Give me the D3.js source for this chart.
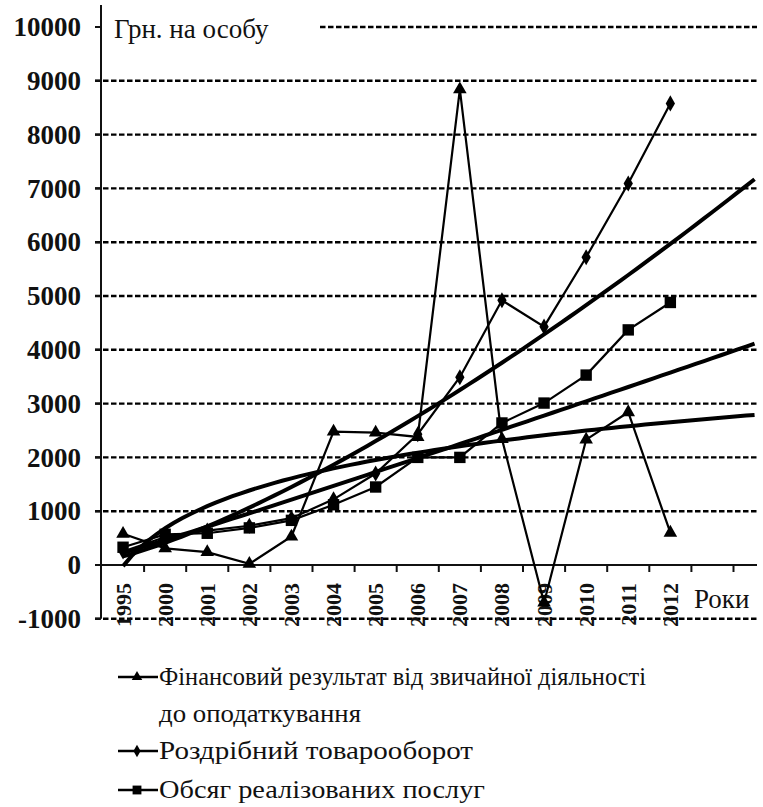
<!DOCTYPE html>
<html>
<head>
<meta charset="utf-8">
<script src="https://cdn.jsdelivr.net/npm/d3@7"></script>
<style>
  body { margin: 0; background: #fff; }
</style>
</head>
<body>
<svg id="chart" width="763" height="807"></svg>
<script>
// categories (two empty slots at the end = trend forecast)
const years = ["1995", "2000", "2001", "2002", "2003", "2004", "2005", "2006",
  "2007", "2008", "2009", "2010", "2011", "2012"];
const forecastSlots = ["+1", "+2"];

// series, грн на особу
const finResult = [580, 310, 240, 20, 530, 2480, 2460, 2380, 8840, 2340, -700, 2330, 2840, 600];
const retailTurnover = [250, 520, 640, 730, 870, 1220, 1700, 2430, 3490, 4920, 4430, 5720, 7090, 8580];
const servicesVolume = [330, 570, 590, 690, 830, 1120, 1450, 2000, 2000, 2640, 3010, 3530, 4370, 4880];

const yTickValues = [-1000, 0, 1000, 2000, 3000, 4000, 5000, 6000, 7000, 8000, 9000, 10000];

const legendRows = [
  ["Фінансовий результат від звичайної діяльності", "до оподаткування"],
  ["Роздрібний товарооборот"],
  ["Обсяг реалізованих послуг"]
];

const FONT = "'Liberation Serif', 'Times New Roman', serif";
const svg = d3.select("#chart");
svg.append("rect").attr("width", 763).attr("height", 807).attr("fill", "#fff");

const plotLeft = 101, plotRight = 757;
const x = d3.scaleBand()
  .domain(years.concat(forecastSlots))
  .range([102, 102 + 16 * 42.1]);
const y = d3.scaleLinear().domain([0, 10000]).range([565, 27]);

// index scale (1-based) for points and trend curves
const allCats = x.domain();
const xi = d3.scaleLinear()
  .domain([1, allCats.length])
  .range([x(allCats[0]) + x.bandwidth() / 2, x(allCats[allCats.length - 1]) + x.bandwidth() / 2]);

svg.append("clipPath").attr("id", "clip")
  .append("rect").attr("x", 0).attr("y", 0).attr("width", plotRight + 1).attr("height", 807);

// gridlines
const grid = svg.append("g").attr("clip-path", "url(#clip)");
grid.selectAll("line")
  .data(yTickValues.filter(v => v !== 0))
  .join("line")
  .attr("x1", d => d === 10000 ? 320 : 95)
  .attr("x2", plotRight)
  .attr("y1", d => y(d)).attr("y2", d => y(d))
  .attr("stroke", "#000")
  .attr("stroke-width", 2.4)
  .attr("stroke-dasharray", "5.5,2.5");

// y axis
const yAxis = svg.append("g");
yAxis.append("line")
  .attr("x1", plotLeft).attr("x2", plotLeft)
  .attr("y1", 5).attr("y2", y(-1000))
  .attr("stroke", "#111").attr("stroke-width", 2);
yAxis.selectAll("line.tk")
  .data(yTickValues)
  .join("line").attr("class", "tk")
  .attr("x1", 95).attr("x2", plotLeft)
  .attr("y1", d => y(d)).attr("y2", d => y(d))
  .attr("stroke", "#111").attr("stroke-width", 2);
yAxis.selectAll("text")
  .data(yTickValues)
  .join("text")
  .attr("x", 81)
  .attr("y", d => y(d))
  .attr("dy", "0.34em")
  .attr("text-anchor", "end")
  .style("font-family", FONT)
  .attr("font-size", 27)
  .attr("font-weight", "bold")
  .attr("fill", "#111")
  .text(d => d);

// x axis
const xAxis = svg.append("g").attr("clip-path", "url(#clip)");
xAxis.append("line")
  .attr("x1", plotLeft).attr("x2", plotRight)
  .attr("y1", y(0)).attr("y2", y(0))
  .attr("stroke", "#111").attr("stroke-width", 2);
xAxis.selectAll("line.tk")
  .data(allCats.slice(1))
  .join("line").attr("class", "tk")
  .attr("x1", d => x(d)).attr("x2", d => x(d))
  .attr("y1", y(0)).attr("y2", y(0) + 7)
  .attr("stroke", "#111").attr("stroke-width", 2);
svg.append("g").selectAll("text")
  .data(years)
  .join("text")
  .attr("transform", d => `translate(${x(d) + x.bandwidth() / 2},583) rotate(-90)`)
  .attr("dy", "0.34em")
  .attr("text-anchor", "end")
  .style("font-family", FONT)
  .attr("font-size", 22)
  .attr("font-weight", "bold")
  .attr("fill", "#111")
  .text(d => d);

// axis titles
svg.append("rect").attr("x", 104).attr("y", 12).attr("width", 214).attr("height", 32).attr("fill", "#fff");
svg.append("text").attr("x", 114).attr("y", 38).style("font-family", FONT)
  .attr("font-size", 27).attr("fill", "#111").text("Грн. на особу");
svg.append("text").attr("x", 694).attr("y", 608).style("font-family", FONT)
  .attr("font-size", 27).attr("fill", "#111").text("Роки");

// trend fits
const idx = years.map((d, i) => i + 1);
function linFit(xs, ys) {
  const mx = d3.mean(xs), my = d3.mean(ys);
  const b = d3.sum(xs, (v, i) => (v - mx) * (ys[i] - my)) / d3.sum(xs, v => (v - mx) * (v - mx));
  return [b, my - b * mx];
}
function logTrend(vals) {
  const [a, b] = linFit(idx.map(Math.log), vals);
  return t => a * Math.log(t) + b;
}
function powerTrend(vals) {
  const [b, la] = linFit(idx.map(Math.log), vals.map(Math.log));
  return t => Math.exp(la) * Math.pow(t, b);
}
const steps = d3.range(1, allCats.length + 0.001, 0.2);
const trendLine = d3.line().x(d => xi(d[0])).y(d => y(d[1]));
const trends = [logTrend(finResult), powerTrend(retailTurnover), powerTrend(servicesVolume)];
svg.append("g").attr("clip-path", "url(#clip)")
  .selectAll("path")
  .data(trends)
  .join("path")
  .attr("d", f => trendLine(steps.map(t => [t, f(t)])))
  .attr("fill", "none")
  .attr("stroke", "#000")
  .attr("stroke-width", 4);

// series
const series = [
  { values: finResult, marker: d3.symbolTriangle, size: 80 },
  { values: retailTurnover, marker: d3.symbolDiamond, size: 75 },
  { values: servicesVolume, marker: d3.symbolSquare, size: 130 }
];
const dataLine = d3.line().x((d, i) => xi(i + 1)).y(d => y(d));
series.forEach(s => {
  const g = svg.append("g");
  g.append("path")
    .attr("d", dataLine(s.values))
    .attr("fill", "none").attr("stroke", "#000").attr("stroke-width", 2.2);
  g.selectAll("path.mk")
    .data(s.values)
    .join("path").attr("class", "mk")
    .attr("transform", (d, i) => `translate(${xi(i + 1)},${y(d)})`)
    .attr("d", d3.symbol(s.marker, s.size))
    .attr("fill", "#000");
});

// legend (text widths matched to the original's typesetting)
const legendY = [677, 751, 790];
const legendTextWidth = [[487, 202], [314], [326]];
const legend = svg.append("g");
legendRows.forEach((lines, k) => {
  const g = legend.append("g").attr("transform", `translate(0,${legendY[k]})`);
  g.append("line").attr("x1", 118).attr("x2", 158).attr("y1", 0).attr("y2", 0)
    .attr("stroke", "#000").attr("stroke-width", 2.4);
  g.append("path").attr("transform", "translate(137,0)")
    .attr("d", d3.symbol(series[k].marker, series[k].size * 0.6)).attr("fill", "#000");
  lines.forEach((t, j) => {
    g.append("text").attr("x", 159).attr("y", 8 + j * 37)
      .style("font-family", FONT)
      .attr("font-size", 25)
      .attr("textLength", legendTextWidth[k][j])
      .attr("lengthAdjust", "spacingAndGlyphs")
      .attr("fill", "#111").text(t);
  });
});
</script>
</body>
</html>
